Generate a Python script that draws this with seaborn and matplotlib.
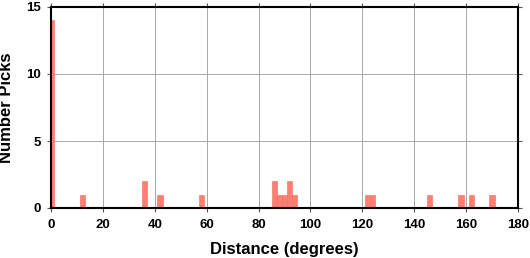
import numpy as np
import pandas as pd
import matplotlib
matplotlib.use("Agg")
import matplotlib.pyplot as plt
import seaborn as sns

# Data (bin centres, 2-degree bins)
distances = [0, 12, 36, 42, 58, 86, 88, 90, 92, 94, 122, 124, 146, 158, 162, 170]
counts = [14, 1, 2, 1, 1, 2, 1, 1, 2, 1, 1, 1, 1, 1, 1, 1]
x_ticks = [0, 20, 40, 60, 80, 100, 120, 140, 160, 180]
y_ticks = [0, 5, 10, 15]

sns.set_style("white")
plt.rcParams['font.family'] = ['Liberation Sans', 'DejaVu Sans']
plt.rcParams['text.color'] = 'black'
plt.rcParams['axes.labelcolor'] = 'black'
plt.rcParams['xtick.color'] = 'black'
plt.rcParams['ytick.color'] = 'black'

df = pd.DataFrame({"Distance": distances, "Count": counts})

fig = plt.figure(figsize=(5.3, 2.58), dpi=100)
ax = fig.add_axes([51 / 530, 1 - 208 / 258, (518 - 51) / 530, (208 - 7) / 258])

sns.histplot(data=df, x="Distance", weights="Count", binwidth=2, binrange=(-1, 181),
             color="#ff7f72", alpha=1.0, edgecolor="#f26a5e", linewidth=0.4, ax=ax,
             zorder=3)

ax.set_xlim(0, 180)
ax.set_ylim(0, 15)
ax.set_xticks(x_ticks)
ax.set_yticks(y_ticks)
ax.grid(True, color="#a8a8a8", linewidth=0.7, zorder=0)
ax.set_axisbelow(True)
for s in ax.spines.values():
    s.set_visible(True)
    s.set_color("black")
    s.set_linewidth(1.5)
    s.set_zorder(5)
ax.tick_params(axis="both", direction="out", length=3, width=0.8, colors="black",
               labelsize=9.5, bottom=True, left=True, top=True, right=True,
               labeltop=False, labelright=False)
ax.tick_params(axis="x", pad=5)
ax.tick_params(axis="y", pad=4)
ax.tick_params(axis="both", color="#555555")
for lab in ax.get_xticklabels() + ax.get_yticklabels():
    lab.set_fontweight("bold")
ax.set_xlabel("Distance (degrees)", fontsize=12, fontweight="bold", labelpad=8)
ax.set_ylabel("Number Picks", fontsize=12, fontweight="bold")
ax.yaxis.set_label_coords(-0.079, 0.5)

fig.savefig("out.png", dpi=100)
